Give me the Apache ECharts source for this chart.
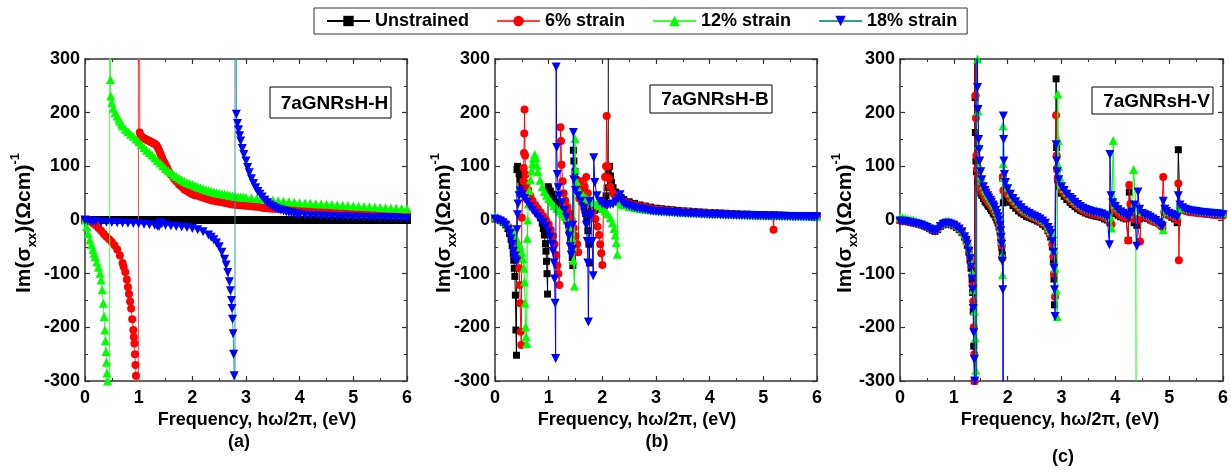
<!DOCTYPE html>
<html><head><meta charset="utf-8">
<script src="https://cdn.jsdelivr.net/npm/echarts@6/dist/echarts.min.js"></script>
<style>html,body{margin:0;padding:0;background:#fff}#chart{width:1231px;height:472px}</style>
</head><body><div id="chart"></div>
<script>
// ---------- labels ----------
const seriesNames = ['Unstrained', '6% strain', '12% strain', '18% strain'];
const panelTitles = ['7aGNRsH-H', '7aGNRsH-B', '7aGNRsH-V'];
const panelLabels = ['(a)', '(b)', '(c)'];
const xAxisTitle = 'Frequency, h\u03c9/2\u03c0, (eV)';
const xRange = [0, 6, 1];
const yRange = [-300, 300, 100];

// ---------- panel (a) 7aGNRsH-H ----------
const aUnstrained = [[0,0],[0.05,0],[0.1,0],[0.15,0],[0.2,0],[0.25,0],[0.3,0],[0.35,0],[0.4,0],[0.45,0],[0.5,0],[0.55,0],[0.6,0],[0.65,0],[0.7,0],[0.75,0],[0.8,0],[0.85,0],[0.9,0],[0.95,0],[1,0],[1.05,0],[1.1,0],[1.15,0],[1.2,0],[1.25,0],[1.3,0],[1.35,0],[1.4,0],[1.45,0],[1.5,0],[1.55,0],[1.6,0],[1.65,0],[1.7,0],[1.75,0],[1.8,0],[1.85,0],[1.9,0],[1.95,0],[2,0],[2.05,0],[2.1,0],[2.15,0],[2.2,0],[2.25,0],[2.3,0],[2.35,0],[2.4,0],[2.45,0],[2.5,0],[2.55,0],[2.6,0],[2.65,0],[2.7,0],[2.75,0],[2.8,0],[2.85,0],[2.9,0],[2.95,0],[3,0],[3.05,0],[3.1,0],[3.15,0],[3.2,0],[3.25,0],[3.3,0],[3.35,0],[3.4,0],[3.45,0],[3.5,0],[3.55,0],[3.6,0],[3.65,0],[3.7,0],[3.75,0],[3.8,0],[3.85,0],[3.9,0],[3.95,0],[4,0],[4.05,0],[4.1,0],[4.15,0],[4.2,0],[4.25,0],[4.3,0],[4.35,0],[4.4,0],[4.45,0],[4.5,0],[4.55,0],[4.6,0],[4.65,0],[4.7,0],[4.75,0],[4.8,0],[4.85,0],[4.9,0],[4.95,0],[5,0],[5.05,0],[5.1,0],[5.15,0],[5.2,0],[5.25,0],[5.3,0],[5.35,0],[5.4,0],[5.45,0],[5.5,0],[5.55,0],[5.6,0],[5.65,0],[5.7,0],[5.75,0],[5.8,0],[5.85,0],[5.9,0],[5.95,0],[6,0]];
const aStrain6 = [[0,0],[0.05,-1],[0.1,-3],[0.15,-6],[0.2,-10],[0.25,-15],[0.3,-20],[0.35,-26],[0.4,-31],[0.45,-36],[0.5,-41],[0.55,-47],[0.6,-55],[0.65,-66],[0.7,-80],[0.72,-87],[0.75,-97],[0.78,-111],[0.8,-125],[0.82,-138],[0.84,-152],[0.86,-165],[0.88,-185],[0.9,-205],[0.91,-218],[0.92,-230],[0.93,-250],[0.94,-270],[0.95,-290],[0.97,-400],[0.99,-3000],[1.0,3000],[1.02,163],[1.04,157],[1.06,155],[1.08,153],[1.1,152],[1.12,151],[1.14,150],[1.16,149],[1.18,148],[1.2,147],[1.22,146],[1.24,145],[1.26,144],[1.28,143],[1.3,142],[1.32,140],[1.34,138],[1.36,134],[1.38,130],[1.4,125],[1.42,120],[1.44,115],[1.46,110],[1.48,106],[1.5,102],[1.53,97],[1.56,91],[1.6,85],[1.63,81],[1.66,77],[1.7,72],[1.75,66],[1.8,62],[1.85,57],[1.9,54],[1.95,51],[2,48],[2.05,46],[2.1,45],[2.15,43.5],[2.2,42],[2.25,40],[2.3,38.5],[2.35,37],[2.4,36],[2.45,35],[2.5,34],[2.55,33],[2.6,32],[2.65,31],[2.7,30],[2.75,29],[2.8,28.5],[2.85,28],[2.9,27.5],[2.95,27],[3,26.5],[3.05,26],[3.1,25.5],[3.15,25],[3.2,24.5],[3.25,24],[3.3,23],[3.35,22.5],[3.4,22],[3.45,21.5],[3.5,21],[3.55,20.8],[3.6,20.5],[3.65,20.2],[3.7,20],[3.75,19.5],[3.8,19],[3.85,18.8],[3.9,18.5],[3.95,18.2],[4,18],[4.05,17.8],[4.1,17.5],[4.15,17.2],[4.2,17],[4.25,16.8],[4.3,16.5],[4.35,16.3],[4.4,16.1],[4.45,16],[4.5,16],[4.55,15.9],[4.6,15.8],[4.65,15.6],[4.7,15.5],[4.75,15.3],[4.8,15.1],[4.85,15],[4.9,14.9],[4.95,14.7],[5,14.5],[5.05,14.3],[5.1,14.2],[5.15,14.1],[5.2,14],[5.25,13.9],[5.3,13.8],[5.35,13.7],[5.4,13.6],[5.45,13.5],[5.5,13.4],[5.55,13.3],[5.6,13.2],[5.65,13.1],[5.7,13.1],[5.75,13],[5.8,13],[5.85,13],[5.9,13],[5.95,13],[6,13]];
const aStrain12 = [[0,0],[0.03,-12],[0.06,-25],[0.09,-37],[0.12,-46],[0.15,-55],[0.17,-62],[0.19,-68],[0.22,-78],[0.25,-88],[0.28,-99],[0.3,-112],[0.32,-130],[0.34,-155],[0.355,-180],[0.37,-205],[0.38,-225],[0.39,-245],[0.4,-265],[0.41,-285],[0.42,-300],[0.43,-400],[0.455,-3000],[0.465,3000],[0.475,262],[0.48,231],[0.5,219],[0.53,208],[0.56,200],[0.6,194],[0.63,188],[0.65,184],[0.68,179],[0.7,175],[0.75,169],[0.8,165],[0.85,160],[0.9,156],[0.95,151],[1,146],[1.05,140],[1.1,135],[1.15,130],[1.2,126],[1.25,121],[1.3,116],[1.35,111],[1.4,106],[1.45,101],[1.5,96],[1.55,92],[1.6,88],[1.65,84],[1.7,81],[1.75,78],[1.8,75],[1.85,72],[1.9,70],[1.95,68],[2,66],[2.05,64],[2.1,62],[2.15,60],[2.2,58],[2.25,56.5],[2.3,55],[2.35,53.5],[2.4,52],[2.45,51],[2.5,50],[2.55,49],[2.6,48],[2.65,47],[2.7,46],[2.75,45],[2.8,44],[2.85,43.5],[2.9,43],[2.95,42.5],[3,42],[3.1,41],[3.2,40],[3.3,39],[3.4,38],[3.5,37],[3.6,36],[3.7,35],[3.8,34],[3.9,33],[4,32],[4.1,31.5],[4.2,31],[4.3,30.5],[4.4,30],[4.5,29.5],[4.6,29],[4.7,28],[4.8,27.5],[4.9,27],[5,26],[5.1,25.5],[5.2,25],[5.3,24.5],[5.4,24],[5.5,23.5],[5.6,23],[5.7,22.5],[5.8,22],[5.9,21.5],[6,21]];
const aStrain18 = [[0,0],[0.05,-1],[0.1,-2],[0.15,-2.5],[0.2,-3],[0.3,-3.5],[0.4,-4],[0.5,-4.5],[0.6,-5],[0.7,-5.5],[0.8,-6],[0.9,-6.5],[1,-7],[1.1,-8],[1.2,-9],[1.3,-10],[1.35,-11],[1.38,-12],[1.4,-5],[1.43,-7],[1.5,-10],[1.6,-11],[1.7,-12],[1.8,-13],[1.9,-14],[2,-16],[2.1,-18],[2.2,-22],[2.3,-28],[2.35,-32],[2.4,-37],[2.45,-43],[2.5,-50],[2.55,-60],[2.6,-73],[2.63,-84],[2.66,-98],[2.69,-115],[2.71,-132],[2.73,-150],[2.74,-165],[2.75,-185],[2.76,-212],[2.77,-250],[2.78,-290],[2.79,-3000],[2.8,3000],[2.82,197],[2.84,180],[2.86,168],[2.88,157],[2.9,147],[2.93,133],[2.96,122],[3,110],[3.03,98],[3.06,88],[3.1,77],[3.14,68],[3.18,60],[3.22,53],[3.26,48],[3.3,43],[3.35,37],[3.4,32],[3.45,28],[3.5,25],[3.55,22.5],[3.6,20],[3.65,18.5],[3.7,17],[3.75,15.5],[3.8,14],[3.85,13],[3.9,12],[3.95,11],[4,10],[4.1,9],[4.2,8.5],[4.3,8],[4.4,7.5],[4.5,7],[4.6,6.5],[4.7,6],[4.8,6],[4.9,5.5],[5,5],[5.1,5],[5.2,4.5],[5.3,4.5],[5.4,4],[5.5,4],[5.6,4],[5.7,3.5],[5.8,3.5],[5.9,3],[6,3]];

// ---------- panel (b) 7aGNRsH-B ----------
const bUnstrained = [[0,2],[0.05,1],[0.1,-1],[0.15,-4],[0.2,-9],[0.24,-16],[0.27,-25],[0.3,-36],[0.32,-48],[0.34,-62],[0.35,-75],[0.36,-90],[0.37,-105],[0.38,-140],[0.39,-205],[0.4,-252],[0.41,94],[0.42,100],[0.43,97],[0.45,86],[0.47,76],[0.5,66],[0.55,53],[0.6,43],[0.65,35],[0.7,28],[0.75,21],[0.8,13],[0.85,4],[0.88,-6],[0.9,-16],[0.92,-28],[0.94,-44],[0.95,-58],[0.96,-77],[0.97,-100],[0.98,-138],[0.99,62],[1,59],[1.03,54],[1.06,48],[1.1,41],[1.15,33],[1.2,26],[1.25,18],[1.3,10],[1.34,1],[1.37,-10],[1.39,-22],[1.41,-38],[1.43,-56],[1.44,-70],[1.45,-85],[1.46,130],[1.47,110],[1.49,90],[1.51,75],[1.54,60],[1.58,46],[1.62,35],[1.66,24],[1.69,12],[1.71,0],[1.73,-20],[1.75,-45],[1.76,-80],[1.77,13],[1.8,16],[1.85,18],[1.9,20],[1.95,23],[2,28],[2.04,35],[2.07,45],[2.09,60],[2.11,90],[2.125,3000],[2.13,'-'],[2.135,100],[2.15,82],[2.17,70],[2.2,60],[2.25,52],[2.3,46],[2.35,42],[2.4,38],[2.5,34],[2.6,31],[2.7,28],[2.8,26],[2.9,24],[3,22],[3.1,21],[3.2,20],[3.3,19],[3.4,18],[3.5,17],[3.6,16.5],[3.7,16],[3.8,15],[3.9,14.5],[4,14],[4.1,13.5],[4.2,13],[4.3,12.5],[4.4,12],[4.5,11.5],[4.6,11],[4.7,11],[4.8,10.5],[4.9,10],[5,10],[5.1,9.5],[5.2,9.5],[5.3,9],[5.4,9],[5.5,8.5],[5.6,8.5],[5.7,8],[5.8,8],[5.9,8],[6,7.5]];
const bStrain6 = [[0,2],[0.05,1],[0.1,-1],[0.15,-3],[0.2,-7],[0.25,-13],[0.3,-22],[0.34,-32],[0.38,-45],[0.41,-58],[0.43,-72],[0.45,-90],[0.46,-121],[0.47,-155],[0.48,-208],[0.49,-233],[0.5,4],[0.52,57],[0.53,72],[0.535,97],[0.54,125],[0.545,161],[0.55,206],[0.56,120],[0.57,85],[0.59,68],[0.62,56],[0.66,45],[0.7,36],[0.75,28],[0.8,21],[0.85,14],[0.9,7],[0.95,0],[1,-8],[1.04,-18],[1.08,-30],[1.11,-45],[1.14,-65],[1.16,-85],[1.18,-100],[1.2,-121],[1.22,173],[1.23,147],[1.24,103],[1.26,72],[1.28,50],[1.31,36],[1.35,24],[1.39,12],[1.43,0],[1.47,-15],[1.5,-30],[1.53,-45],[1.55,-60],[1.57,40],[1.6,72],[1.63,55],[1.67,62],[1.7,80],[1.73,50],[1.77,30],[1.82,15],[1.87,2],[1.91,-12],[1.94,-28],[1.96,-45],[1.98,-62],[2,-84],[2.02,20],[2.05,80],[2.07,100],[2.08,194],[2.1,100],[2.12,78],[2.15,62],[2.2,50],[2.25,44],[2.3,40],[2.35,37],[2.4,35],[2.5,31],[2.6,28],[2.7,26],[2.8,24],[2.9,22],[3,20],[3.1,19],[3.2,18],[3.3,17],[3.4,16],[3.5,15.5],[3.6,15],[3.7,14.5],[3.8,14],[3.9,13.5],[4,13],[4.1,12.5],[4.2,12],[4.3,11.5],[4.4,11],[4.5,10.5],[4.6,10],[4.7,10],[4.8,9.5],[4.9,9],[5,9],[5.1,8.5],[5.18,8.5],[5.19,-18],[5.2,8.5],[5.3,8],[5.4,8],[5.5,7.5],[5.6,7.5],[5.7,7],[5.8,7],[5.9,6.5],[6,6.5]];
const bStrain12 = [[0,6],[0.05,4],[0.1,2],[0.15,-1],[0.2,-5],[0.25,-10],[0.3,-17],[0.35,-25],[0.4,-34],[0.44,-42],[0.47,-50],[0.5,-60],[0.52,-72],[0.54,-90],[0.55,-115],[0.56,-155],[0.57,-199],[0.58,-217],[0.59,-230],[0.6,-34],[0.61,0],[0.62,30],[0.64,55],[0.66,75],[0.68,92],[0.7,105],[0.72,115],[0.74,122],[0.76,116],[0.78,102],[0.8,90],[0.84,74],[0.88,62],[0.92,53],[0.96,46],[1,40],[1.05,33],[1.1,27],[1.15,22],[1.2,17],[1.25,12],[1.3,7],[1.34,0],[1.38,-10],[1.41,-22],[1.43,-35],[1.45,-50],[1.46,-75],[1.48,-123],[1.49,152],[1.5,95],[1.52,72],[1.55,58],[1.6,50],[1.65,45],[1.7,41],[1.75,38],[1.8,35],[1.85,32],[1.9,29],[1.95,26],[2,22],[2.05,17],[2.1,11],[2.15,4],[2.19,-5],[2.22,-16],[2.24,-28],[2.26,-42],[2.28,-64],[2.29,40],[2.32,34],[2.36,30],[2.4,28],[2.5,25],[2.6,23],[2.7,21],[2.8,20],[2.9,19],[3,18],[3.1,17.5],[3.2,17],[3.3,16],[3.4,15.5],[3.5,15],[3.6,14.5],[3.7,14],[3.8,13.5],[3.9,13],[4,12.5],[4.1,12],[4.2,12],[4.3,11.5],[4.4,11],[4.5,11],[4.6,10.5],[4.7,10],[4.8,10],[4.9,9.5],[5,9.5],[5.1,9],[5.2,9],[5.3,8.5],[5.4,8.5],[5.5,8],[5.6,8],[5.7,8],[5.8,7.5],[5.9,7.5],[6,7]];
const bStrain18 = [[0,2],[0.05,0],[0.1,-2],[0.15,-5],[0.2,-10],[0.25,-18],[0.28,-25],[0.3,-35],[0.32,-45],[0.34,-58],[0.36,-68],[0.38,-74],[0.4,-77],[0.41,-18],[0.42,10],[0.43,30],[0.45,45],[0.47,54],[0.5,48],[0.55,40],[0.6,33],[0.65,25],[0.7,18],[0.75,12],[0.8,6],[0.85,1],[0.9,-5],[0.95,-12],[1,-22],[1.03,-32],[1.06,-45],[1.08,-58],[1.1,-80],[1.11,-110],[1.12,-155],[1.13,-258],[1.14,285],[1.15,135],[1.16,85],[1.18,60],[1.2,45],[1.25,32],[1.3,18],[1.33,5],[1.36,-12],[1.38,-30],[1.4,-50],[1.42,-65],[1.44,-55],[1.45,-10],[1.46,163],[1.47,75],[1.5,55],[1.55,45],[1.6,35],[1.65,22],[1.68,8],[1.7,-10],[1.72,-40],[1.73,-80],[1.74,-190],[1.76,35],[1.79,10],[1.81,-40],[1.83,-104],[1.84,116],[1.86,70],[1.9,45],[1.95,35],[2,30],[2.05,29],[2.1,28],[2.15,29],[2.2,30],[2.25,34],[2.3,40],[2.33,47],[2.36,35],[2.4,30],[2.45,28],[2.5,26],[2.55,24.5],[2.6,23],[2.65,22],[2.7,21],[2.75,20],[2.8,19],[2.85,18],[2.9,17],[2.95,16.5],[3,16],[3.05,15.5],[3.1,15],[3.15,14.7],[3.2,14.5],[3.25,14.2],[3.3,14],[3.35,13.5],[3.4,13],[3.45,12.7],[3.5,12.5],[3.55,12.2],[3.6,12],[3.65,11.7],[3.7,11.5],[3.75,11.2],[3.8,11],[3.85,10.7],[3.9,10.5],[3.95,10.2],[4,10],[4.05,10],[4.1,10],[4.15,9.7],[4.2,9.5],[4.25,9.2],[4.3,9],[4.35,9],[4.4,9],[4.45,8.7],[4.5,8.5],[4.55,8.5],[4.6,8.5],[4.65,8.2],[4.7,8],[4.75,8],[4.8,8],[4.85,7.7],[4.9,7.5],[4.95,7.5],[5,7.5],[5.05,7.2],[5.1,7],[5.15,7],[5.2,7],[5.25,7],[5.3,7],[5.35,6.7],[5.4,6.5],[5.45,6.5],[5.5,6.5],[5.55,6.2],[5.6,6],[5.65,6],[5.7,6],[5.75,6],[5.8,6],[5.85,5.7],[5.9,5.5],[5.95,5.5],[6,5.5]];

// ---------- panel (c) 7aGNRsH-V ----------
const cUnstrained = [[0,-1],[0.05,-1.5],[0.1,-2],[0.15,-3],[0.2,-4],[0.25,-5],[0.3,-6],[0.35,-7.5],[0.4,-9],[0.45,-11],[0.5,-13],[0.55,-16],[0.6,-19],[0.65,-21],[0.7,-18],[0.75,-12],[0.8,-9],[0.85,-7],[0.9,-7],[0.95,-9],[1,-11],[1.05,-14],[1.1,-18],[1.15,-23],[1.2,-32],[1.23,-39],[1.25,-47],[1.28,-60],[1.3,-74],[1.32,-90],[1.34,-112],[1.35,-135],[1.36,-170],[1.37,-235],[1.38,-300],[1.385,-3000],[1.39,3000],[1.395,228],[1.4,163],[1.41,110],[1.42,90],[1.44,72],[1.47,58],[1.5,50],[1.52,46],[1.55,40],[1.58,35],[1.6,32],[1.63,28],[1.65,25],[1.68,21],[1.7,18],[1.73,13],[1.75,10],[1.78,5],[1.8,0],[1.82,-5],[1.84,-13],[1.86,-22],[1.87,-32],[1.88,-42],[1.89,-52],[1.9,-65],[1.91,78],[1.92,32],[1.95,45],[2,40],[2.05,33],[2.1,27],[2.15,22],[2.2,17],[2.25,13],[2.3,10],[2.35,7],[2.4,5],[2.45,2.5],[2.5,0.5],[2.55,-2],[2.6,-4],[2.65,-8],[2.7,-12],[2.75,-20],[2.78,-25],[2.8,-32],[2.83,-50],[2.85,-75],[2.86,-110],[2.87,-158],[2.9,263],[2.91,135],[2.92,95],[2.93,75],[2.95,63],[3,50],[3.05,44],[3.1,38],[3.16,33],[3.2,29],[3.25,25],[3.3,21],[3.35,18],[3.4,15.5],[3.45,13],[3.5,11],[3.55,9.5],[3.6,8],[3.65,7],[3.7,6],[3.75,4.5],[3.8,2],[3.85,0],[3.9,-5],[3.95,20],[4,12],[4.05,9],[4.1,6],[4.15,4],[4.2,2],[4.24,-38],[4.26,52],[4.3,5],[4.35,-5],[4.4,-10],[4.45,2],[4.5,5],[4.55,4],[4.6,3],[4.65,0],[4.7,-2],[4.75,-4],[4.8,-6],[4.85,-9],[4.88,-12],[4.92,15],[4.95,11],[5,8],[5.05,5],[5.1,2],[5.15,-5],[5.17,131],[5.2,25],[5.25,21],[5.3,18],[5.35,16],[5.4,15],[5.45,14.5],[5.5,14],[5.55,13.5],[5.6,13],[5.65,12.5],[5.7,12],[5.75,11.5],[5.8,11],[5.85,11],[5.9,10.5],[5.95,10.5],[6,10]];
const cStrain6 = [[0,-1],[0.05,-1.5],[0.1,-2],[0.15,-3],[0.2,-4],[0.25,-5],[0.3,-6],[0.35,-7.5],[0.4,-9],[0.45,-11],[0.5,-13],[0.55,-16],[0.6,-19],[0.65,-20],[0.7,-17],[0.75,-11],[0.8,-8],[0.85,-6],[0.9,-6],[0.95,-8],[1,-10],[1.05,-13],[1.1,-17],[1.15,-22],[1.2,-30],[1.23,-37],[1.25,-43],[1.28,-55],[1.3,-68],[1.32,-84],[1.34,-104],[1.35,-122],[1.36,-152],[1.37,-200],[1.38,-250],[1.39,-300],[1.395,-3000],[1.4,3000],[1.405,232],[1.41,190],[1.42,120],[1.43,95],[1.45,80],[1.48,66],[1.5,58],[1.52,54],[1.55,48],[1.58,42],[1.6,39],[1.63,35],[1.65,32],[1.68,28],[1.7,25],[1.73,20],[1.75,17],[1.78,12],[1.8,7],[1.82,2],[1.84,-5],[1.86,-14],[1.87,-24],[1.88,-35],[1.89,-48],[1.9,-71],[1.91,80],[1.92,55],[1.95,52],[2,48],[2.05,40],[2.1,34],[2.15,28],[2.2,23],[2.25,18],[2.3,14],[2.35,11],[2.4,8.5],[2.45,6],[2.5,3.5],[2.55,1],[2.6,-1.5],[2.65,-5],[2.7,-9],[2.75,-17],[2.78,-22],[2.8,-28],[2.83,-45],[2.85,-68],[2.86,-100],[2.88,-143],[2.9,195],[2.91,120],[2.92,95],[2.93,78],[2.95,68],[3,56],[3.05,50],[3.1,44],[3.16,38],[3.2,34],[3.25,29],[3.3,25],[3.35,21.5],[3.4,18.5],[3.45,16],[3.5,14],[3.55,12.5],[3.6,11],[3.65,10],[3.7,9],[3.75,7.5],[3.8,5],[3.85,2],[3.9,-2],[3.93,-8],[3.96,25],[4,18],[4.05,13],[4.1,9],[4.15,6],[4.2,4],[4.24,-38],[4.26,65],[4.28,30],[4.3,8],[4.35,2],[4.4,0],[4.46,-40],[4.48,10],[4.5,8],[4.55,6],[4.6,4],[4.65,1],[4.7,-2],[4.75,-4],[4.8,-7],[4.85,-11],[4.87,-13],[4.89,80],[4.91,15],[4.95,12],[5,9],[5.05,7],[5.1,4],[5.15,0],[5.17,68],[5.18,-75],[5.2,22],[5.25,19],[5.3,17],[5.35,15.5],[5.4,14.5],[5.45,14],[5.5,13.5],[5.55,12.5],[5.6,12],[5.65,11.5],[5.7,11],[5.75,10.5],[5.8,10],[5.85,9.5],[5.9,9],[5.95,9],[6,8.5]];
const cStrain12 = [[0,5],[0.05,4],[0.1,3],[0.15,2],[0.2,1],[0.25,0],[0.3,-2],[0.35,-3.5],[0.4,-5],[0.45,-7],[0.5,-9],[0.55,-12],[0.6,-15],[0.65,-16],[0.7,-13],[0.75,-7],[0.8,-4],[0.85,-2],[0.9,-2],[0.95,-4],[1,-6],[1.05,-9],[1.1,-13],[1.15,-18],[1.2,-26],[1.23,-32],[1.25,-38],[1.28,-50],[1.3,-62],[1.32,-78],[1.34,-98],[1.36,-130],[1.38,-170],[1.4,-220],[1.41,-280],[1.425,-3000],[1.43,3000],[1.44,300],[1.45,203],[1.46,140],[1.48,100],[1.5,82],[1.52,74],[1.55,65],[1.58,58],[1.6,54],[1.63,49],[1.65,45],[1.68,41],[1.7,37],[1.73,32],[1.75,28],[1.78,22],[1.8,16],[1.82,10],[1.84,4],[1.86,-6],[1.87,-15],[1.88,-26],[1.89,-38],[1.9,-65],[1.905,-102],[1.915,175],[1.92,105],[1.93,80],[1.96,70],[2,61],[2.05,51],[2.1,43],[2.15,37],[2.2,31],[2.25,26],[2.3,21],[2.35,18],[2.4,15],[2.45,12.5],[2.5,10],[2.55,7.5],[2.6,5],[2.65,1],[2.7,-3],[2.75,-10],[2.78,-15],[2.8,-20],[2.83,-32],[2.86,-55],[2.88,-90],[2.9,-130],[2.92,-180],[2.93,235],[2.94,148],[2.95,100],[2.97,80],[3,66],[3.05,59],[3.1,52],[3.16,46],[3.2,42],[3.25,37],[3.3,33],[3.35,29],[3.4,26],[3.45,23.5],[3.5,21.5],[3.55,20],[3.6,18.5],[3.65,17.5],[3.7,16.5],[3.75,15],[3.8,13],[3.85,10],[3.9,5],[3.93,-15],[3.96,148],[3.98,38],[4,30],[4.05,24],[4.1,20],[4.15,17],[4.2,15],[4.25,12],[4.3,20],[4.34,94],[4.38,25],[4.43,-3000],[4.435,'-'],[4.45,24],[4.5,16],[4.55,14],[4.6,12],[4.65,9],[4.7,6],[4.75,3],[4.8,0],[4.85,-5],[4.89,-18],[4.92,24],[4.95,20],[5,16],[5.05,14],[5.1,12],[5.15,10],[5.17,20],[5.2,31],[5.25,26],[5.3,23],[5.35,21],[5.4,20],[5.45,19.5],[5.5,19],[5.55,18],[5.6,17],[5.65,16.5],[5.7,16],[5.75,15.5],[5.8,15],[5.85,14.5],[5.9,14],[5.95,13.5],[6,13]];
const cStrain18 = [[0,-2],[0.05,-2.5],[0.1,-3],[0.15,-4],[0.2,-5],[0.25,-6],[0.3,-7],[0.35,-8.5],[0.4,-10],[0.45,-12],[0.5,-14],[0.55,-17],[0.6,-20],[0.65,-21],[0.7,-18],[0.75,-12],[0.8,-8],[0.85,-6],[0.9,-6],[0.95,-8],[1,-10],[1.05,-13],[1.1,-17],[1.15,-22],[1.2,-31],[1.23,-38],[1.25,-45],[1.28,-58],[1.3,-72],[1.32,-88],[1.34,-110],[1.35,-130],[1.36,-165],[1.37,-210],[1.38,-260],[1.39,-300],[1.41,-3000],[1.42,3000],[1.44,247],[1.45,206],[1.46,150],[1.47,131],[1.48,110],[1.5,90],[1.52,75],[1.55,62],[1.58,55],[1.6,50],[1.63,45],[1.65,41],[1.68,37],[1.7,33],[1.73,28],[1.75,24],[1.78,18],[1.8,12],[1.82,6],[1.84,0],[1.86,-10],[1.87,-20],[1.88,-32],[1.89,-45],[1.9,-77],[1.91,-130],[1.915,-3000],[1.92,194],[1.925,150],[1.93,110],[1.94,85],[1.96,70],[2,58],[2.05,48],[2.1,40],[2.15,34],[2.2,28],[2.25,23],[2.3,18],[2.35,15],[2.4,12],[2.45,9.5],[2.5,7],[2.55,4.5],[2.6,2],[2.65,-2],[2.7,-6],[2.75,-14],[2.78,-19],[2.8,-25],[2.83,-40],[2.85,-60],[2.86,-90],[2.87,-130],[2.88,-180],[2.9,140],[2.91,110],[2.92,90],[2.95,75],[3,62],[3.05,55],[3.1,48],[3.16,42],[3.2,38],[3.25,33],[3.3,29],[3.35,25],[3.4,22],[3.45,19.5],[3.5,17.5],[3.55,16],[3.6,14.5],[3.65,13.5],[3.7,12.5],[3.75,11],[3.8,9],[3.85,6],[3.89,-46],[3.9,122],[3.92,45],[3.95,32],[4,25],[4.05,19],[4.1,15],[4.15,12],[4.2,10],[4.25,5],[4.3,15],[4.35,28],[4.4,-49],[4.42,52],[4.45,20],[4.5,12],[4.55,10],[4.6,8],[4.65,5],[4.7,2],[4.75,-1],[4.8,-5],[4.85,-10],[4.87,-12],[4.89,35],[4.92,20],[4.95,16],[5,12],[5.05,10],[5.1,8],[5.15,5],[5.17,45],[5.2,28],[5.25,23],[5.3,20],[5.35,18],[5.4,17],[5.45,16.5],[5.5,16],[5.55,15],[5.6,14],[5.65,13.5],[5.7,13],[5.75,12.5],[5.8,12],[5.85,11.5],[5.9,11],[5.95,10.5],[6,10]];

const panelData = [
  [aUnstrained, aStrain6, aStrain12, aStrain18],
  [bUnstrained, bStrain6, bStrain12, bStrain18],
  [cUnstrained, cStrain6, cStrain12, cStrain18]
];

// ---------- styling ----------
const FONT = 'Liberation Sans, Arial, sans-serif';
const markerColors = ['#000000', '#ff0000', '#00ff00', '#0000ff'];
const lineColors = [
  ['#000000', '#ff4040', '#40ff40', '#339999'],
  ['#000000', '#ff0000', '#00ff00', '#0000ff'],
  ['#000000', '#ff0000', '#00ff00', '#0000ff']
];
const symbols = ['rect', 'circle', 'triangle', 'path://M0,0L10,0L5,9Z'];
const symbolSizes = [
  [8, 8, 9, 9],
  [7, 8, 9, 9],
  [7, 8, 9, 9]
];
const grids = [
  { left: 85, top: 59, width: 322, height: 322 },
  { left: 495, top: 59, width: 322, height: 322 },
  { left: 900, top: 59, width: 323, height: 322 }
];
const yTitleX = [24, 444, 845];
const xTitleX = [257, 637, 1060];
const subLabelPos = [[239, 442], [657, 442], [1063, 457]];
const boxes = [[270, 87, 121, 31], [650, 85, 122, 28], [1092, 87, 121, 27]];

const axisLineStyle = { color: '#333', width: 1.5 };
function xAx(gi, top) {
  return {
    type: 'value', gridIndex: gi, position: top ? 'top' : 'bottom',
    min: xRange[0], max: xRange[1], interval: xRange[2],
    axisLine: { show: true, onZero: false, lineStyle: axisLineStyle },
    axisTick: { show: true, inside: true, length: 5, lineStyle: { color: '#333', width: 1.2 } },
    minorTick: { show: true, splitNumber: 2, length: 3, lineStyle: { color: '#333', width: 1 } },
    splitLine: { show: false }, minorSplitLine: { show: false },
    axisLabel: { show: !top, fontSize: 18, fontWeight: 'bold', color: '#000', fontFamily: FONT, margin: 8 }
  };
}
function yAx(gi, right) {
  return {
    type: 'value', gridIndex: gi, position: right ? 'right' : 'left',
    min: yRange[0], max: yRange[1], interval: yRange[2],
    axisLine: { show: true, onZero: false, lineStyle: axisLineStyle },
    axisTick: { show: true, inside: true, length: 5, lineStyle: { color: '#333', width: 1.2 } },
    minorTick: { show: true, splitNumber: 2, length: 3, lineStyle: { color: '#333', width: 1 } },
    splitLine: { show: false }, minorSplitLine: { show: false },
    axisLabel: { show: !right, fontSize: 18, fontWeight: 'bold', color: '#000', fontFamily: FONT, margin: 5 }
  };
}

const xAxes = [], yAxes = [], series = [], graphics = [];
for (let p = 0; p < 3; p++) {
  xAxes.push(xAx(p, false), xAx(p, true));
  yAxes.push(yAx(p, false), yAx(p, true));
  for (let s = 0; s < 4; s++) {
    series.push({
      name: seriesNames[s], type: 'line', xAxisIndex: 2 * p, yAxisIndex: 2 * p,
      data: panelData[p][s], symbol: symbols[s], symbolSize: symbolSizes[p][s],
      showSymbol: true, showAllSymbol: true, clip: true, connectNulls: false,
      itemStyle: { color: markerColors[s], borderWidth: 0 },
      lineStyle: { color: lineColors[p][s], width: 1 },
      emphasis: { disabled: true }, animation: false, z: 2 + s
    });
  }
  const g = grids[p];
  graphics.push({
    type: 'text', x: yTitleX[p], y: g.top + g.height / 2 + 3, rotation: Math.PI / 2,
    style: {
      text: '{m|Im(\u03c3}{s|xx}{m|)(\u03a9cm)}{p|-1}',
      align: 'center', verticalAlign: 'middle', fill: '#000',
      rich: {
        m: { fontSize: 21, fontWeight: 'bold', fontFamily: FONT, lineHeight: 30, fill: '#000' },
        s: { fontSize: 13, fontWeight: 'bold', fontFamily: FONT, verticalAlign: 'bottom', fill: '#000' },
        p: { fontSize: 13, fontWeight: 'bold', fontFamily: FONT, verticalAlign: 'top', fill: '#000' }
      }
    }
  });
  graphics.push({
    type: 'text', x: xTitleX[p], y: 420,
    style: { text: xAxisTitle, align: 'center', verticalAlign: 'middle', fontSize: 18, fontWeight: 'bold', fontFamily: FONT, fill: '#000' }
  });
  graphics.push({
    type: 'text', x: subLabelPos[p][0], y: subLabelPos[p][1],
    style: { text: panelLabels[p], align: 'center', verticalAlign: 'middle', fontSize: 18, fontWeight: 'bold', fontFamily: FONT, fill: '#000' }
  });
  const b = boxes[p];
  graphics.push({
    type: 'rect', shape: { x: b[0], y: b[1], width: b[2], height: b[3] },
    style: { fill: '#fff', stroke: '#000', lineWidth: 1 }, z: 100
  });
  graphics.push({
    type: 'text', x: b[0] + b[2] / 2 + 4, y: b[1] + b[3] / 2 + 1, z: 101,
    style: { text: panelTitles[p], align: 'center', verticalAlign: 'middle', fontSize: 19, fontWeight: 'bold', fontFamily: FONT, fill: '#000' }
  });
}

const chart = echarts.init(document.getElementById('chart'), null, { renderer: 'canvas' });
chart.setOption({
  backgroundColor: '#fff',
  animation: false,
  grid: grids.map(g => Object.assign({ containLabel: false, show: false }, g)),
  xAxis: xAxes,
  yAxis: yAxes,
  legend: {
    data: seriesNames, left: 314, top: 8, orient: 'horizontal',
    padding: [4, 10, 4, 12], itemGap: 27, itemWidth: 43, itemHeight: 13,
    borderColor: '#333', borderWidth: 1, backgroundColor: '#fff',
    textStyle: { fontSize: 18, fontWeight: 'bold', fontFamily: FONT, color: '#000' },
    selectedMode: false
  },
  series: series,
  graphic: graphics
});
</script>
</body></html>
